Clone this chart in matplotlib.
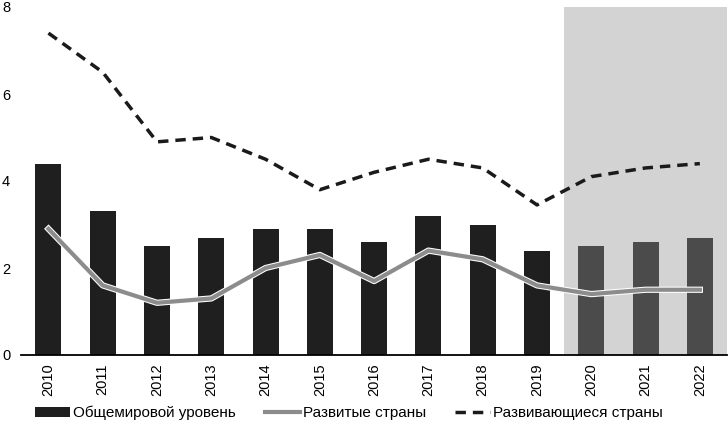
import matplotlib
matplotlib.use("Agg")
import matplotlib.pyplot as plt
import matplotlib.patheffects as pe
import numpy as np

plt.rcParams['font.family'] = ['Liberation Sans', 'DejaVu Sans']

years = ['2010', '2011', '2012', '2013', '2014', '2015', '2016',
         '2017', '2018', '2019', '2020', '2021', '2022']
world = [4.4, 3.3, 2.5, 2.7, 2.9, 2.9, 2.6, 3.2, 3.0, 2.4, 2.5, 2.6, 2.7]
developed = [2.9, 1.6, 1.2, 1.3, 2.0, 2.3, 1.7, 2.4, 2.2, 1.6, 1.4, 1.5, 1.5]
developing = [7.4, 6.5, 4.9, 5.0, 4.5, 3.8, 4.2, 4.5, 4.3, 3.45, 4.1, 4.3, 4.4]
forecast_from = '2020'

x = np.arange(len(years))
fc = years.index(forecast_from)

fig = plt.figure(figsize=(7.28, 4.25), dpi=100)
ax = fig.add_axes([21.3 / 728, 70 / 425, 705.7 / 728, 348 / 425])

# forecast area
ax.axvspan(fc - 0.5, len(years) + 1, color='#d3d3d3', zorder=0, lw=0)

colors = ['#1f1f1f' if i < fc else '#4b4b4b' for i in range(len(years))]
ax.bar(x, world, width=0.48, color=colors, zorder=2, label='Общемировой уровень')

ax.plot(x, developed, color='#8c8c8c', lw=3, zorder=3,
        path_effects=[pe.Stroke(linewidth=4.5, foreground='white'), pe.Normal()],
        label='Развитые страны')
ax.plot(x, developing, color='#1a1a1a', lw=2.5, ls=(0, (3, 2)), zorder=3,
        label='Развивающиеся страны')

ax.set_xlim(-0.5, 12.5)
ax.set_ylim(0, 8)
ax.set_yticks([0, 2, 4, 6, 8])
ax.set_xticks(x)
ax.set_xticklabels(years, rotation=90)
ax.tick_params(axis='y', length=0, pad=8, labelsize=10.5)
ax.tick_params(axis='x', length=0, pad=6, labelsize=10.5)

for s in ['top', 'right', 'left']:
    ax.spines[s].set_visible(False)
ax.spines['bottom'].set_linewidth(1.3)
ax.spines['bottom'].set_zorder(4)

handles, labels = ax.get_legend_handles_labels()
order = [2, 0, 1]
fig.legend([handles[i] for i in order], [labels[i] for i in order],
           loc='center', bbox_to_anchor=(0.479, 12 / 425), ncol=3, frameon=False,
           fontsize=11, handlelength=2.3, handletextpad=0.2, columnspacing=1.9)

fig.savefig('out.png', dpi=100)
